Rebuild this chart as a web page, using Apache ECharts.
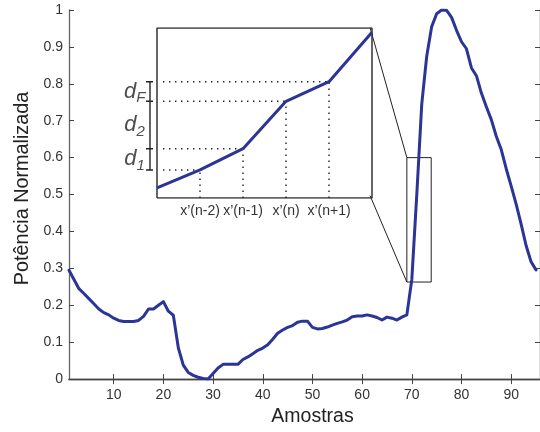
<!DOCTYPE html>
<html><head><meta charset="utf-8">
<script src="https://cdn.jsdelivr.net/npm/echarts@6/dist/echarts.min.js"></script>
<style>html,body{margin:0;padding:0;background:#fff}#c{width:540px;height:432px}</style>
</head><body><div id="c"></div>
<script>
// ---- main series ----
const samples = Array.from({length: 95}, (_, i) => i + 1);
const power = [
  0.295, 0.270, 0.245, 0.232, 0.218, 0.204, 0.190, 0.180, 0.174, 0.165,
  0.159, 0.156, 0.156, 0.156, 0.159, 0.170, 0.190, 0.190, 0.200, 0.210,
  0.184, 0.173, 0.085, 0.038, 0.018, 0.010, 0.005, 0.002, 0.000, 0.015,
  0.030, 0.040, 0.040, 0.040, 0.040, 0.053, 0.060, 0.069, 0.078, 0.084,
  0.093, 0.108, 0.124, 0.133, 0.140, 0.145, 0.154, 0.157, 0.157, 0.140,
  0.136, 0.137, 0.141, 0.146, 0.151, 0.155, 0.160, 0.169, 0.171, 0.171,
  0.174, 0.171, 0.167, 0.160, 0.168, 0.165, 0.160, 0.168, 0.174, 0.270,
  0.500, 0.745, 0.875, 0.955, 0.990, 1.000, 0.999, 0.980, 0.945, 0.914,
  0.895, 0.843, 0.822, 0.775, 0.738, 0.703, 0.658, 0.622, 0.570, 0.523,
  0.474, 0.420, 0.362, 0.318, 0.296
];
const xTicks = [10, 20, 30, 40, 50, 60, 70, 80, 90];
const xMin = 1, xMax = 95.8;

// ---- zoom rectangle (main data coords) & inset corners (main data coords) ----
const zoomBoxX = [69, 73.9];
const zoomBoxY = [0.263, 0.6];
const insetCornerX = 61.6;
const insetCornerY = [0.952, 0.497];

// ---- inset schematic ----
const insetMinX = -0.7, insetMaxX = 5;
const insetBoxX = [0, 5];
const insetBoxY = [0, 1];
const insetX = [0, 1, 2, 3, 4, 5];
const insetY = [0.06, 0.165, 0.29, 0.569, 0.684, 0.975];
const insetLabels = ['x’(n-2)', 'x’(n-1)', 'x’(n)', 'x’(n+1)'];
const insetLabelPos = [1, 2, 3, 4];
const guideStartX = 0.14;
const bracketX = -0.163, bracketTick = [-0.256, -0.093];
const dLabelX = -0.52;
const dLabels = [
  {text: '{d|d}{s|1}', y: (insetY[1] + insetY[2]) / 2},
  {text: '{d|d}{s|2}', y: (insetY[2] + insetY[3]) / 2},
  {text: '{d|d}{s|F}', y: (insetY[3] + insetY[4]) / 2}
];

const FONT = 'Liberation Sans';
const BLUE = '#2b3595';
const INK = '#222';
const chart = echarts.init(document.getElementById('c'), null, {renderer: 'canvas'});

const dotted = {color: INK, width: 1.4, type: [1.4, 4.6]};
const series = [];
function seg(axisIdx, pts, style, z) {
  series.push({type: 'line', xAxisIndex: axisIdx, yAxisIndex: axisIdx, symbol: 'none', silent: true,
    z: z || 3, lineStyle: style, data: pts});
}

// zoom rectangle
seg(0, [[zoomBoxX[0], zoomBoxY[0]], [zoomBoxX[1], zoomBoxY[0]], [zoomBoxX[1], zoomBoxY[1]],
        [zoomBoxX[0], zoomBoxY[1]], [zoomBoxX[0], zoomBoxY[0]]], {color: INK, width: 1}, 2);
// connectors from inset box corners to zoom rectangle
seg(0, [[insetCornerX, insetCornerY[0]], [zoomBoxX[0], zoomBoxY[1]]], {color: INK, width: 1}, 2);
seg(0, [[insetCornerX, insetCornerY[1]], [zoomBoxX[0], zoomBoxY[0]]], {color: INK, width: 1}, 2);
// main curve
series.push({
  type: 'line', xAxisIndex: 0, yAxisIndex: 0, symbol: 'none', z: 5,
  lineStyle: {color: BLUE, width: 3, join: 'round', cap: 'round'},
  data: samples.map((s, i) => [s, power[i]])
});

// inset box
seg(1, [[insetBoxX[0], insetBoxY[0]], [insetBoxX[1], insetBoxY[0]], [insetBoxX[1], insetBoxY[1]],
        [insetBoxX[0], insetBoxY[1]], [insetBoxX[0], insetBoxY[0]]], {color: '#333', width: 1.5}, 3);
// inset guides
for (let i = 1; i <= 4; i++) {
  seg(1, [[insetX[i], insetBoxY[0]], [insetX[i], insetY[i]]], dotted, 3);
  seg(1, [[guideStartX, insetY[i]], [insetX[i], insetY[i]]], dotted, 3);
}
// inset curve
series.push({
  type: 'line', xAxisIndex: 1, yAxisIndex: 1, symbol: 'none', z: 5,
  lineStyle: {color: BLUE, width: 3, join: 'round'},
  data: insetX.map((x, i) => [x, insetY[i]])
});
// bracket
seg(1, [[bracketX, insetY[1]], [bracketX, insetY[4]]], {color: INK, width: 1.4}, 4);
for (let i = 1; i <= 4; i++) {
  seg(1, [[bracketTick[0], insetY[i]], [bracketTick[1], insetY[i]]], {color: INK, width: 1.4}, 4);
}
// d labels
series.push({
  type: 'scatter', xAxisIndex: 1, yAxisIndex: 1, symbolSize: 0, silent: true, z: 6,
  data: dLabels.map(d => ({value: [dLabelX, d.y], label: {formatter: d.text}})),
  label: {
    show: true, position: 'inside', align: 'center', verticalAlign: 'middle',
    rich: {
      d: {fontFamily: FONT, fontStyle: 'italic', fontSize: 22, color: INK, lineHeight: 22, verticalAlign: 'top'},
      s: {fontFamily: FONT, fontStyle: 'italic', fontSize: 15, color: INK, lineHeight: 15, verticalAlign: 'top', padding: [10, 0, 0, 0]}
    }
  }
});

const option = {
  animation: false,
  backgroundColor: '#fff',
  textStyle: {fontFamily: FONT},
  grid: [
    {left: 69, top: 10, width: 474, height: 374, show: false},
    {left: 126.9, top: 28, width: 245.1, height: 170, show: false}
  ],
  xAxis: [
    {gridIndex: 0, type: 'value', min: xMin, max: xMax, position: 'bottom',
     name: 'Amostras', nameLocation: 'middle', nameGap: 34,
     nameTextStyle: {fontSize: 19.5, color: INK, verticalAlign: 'middle', padding: [0, 0, 0, 16]},
     axisLine: {show: true, lineStyle: {color: '#666', width: 1.3}},
     axisTick: {show: true, inside: true, length: 5, customValues: xTicks, lineStyle: {color: '#444'}},
     axisLabel: {show: true, customValues: xTicks, fontSize: 14, color: '#333', margin: 9},
     splitLine: {show: false}},
    {gridIndex: 1, type: 'value', min: insetMinX, max: insetMaxX, position: 'bottom',
     axisLine: {show: false}, axisTick: {show: false}, splitLine: {show: false},
     axisLabel: {show: true, customValues: insetLabelPos, fontSize: 14, color: '#333', margin: 6,
                 formatter: v => insetLabels[insetLabelPos.indexOf(Math.round(v))]}},
    {gridIndex: 0, type: 'value', min: xMin, max: xMax, position: 'top',
     axisLine: {show: true, lineStyle: {color: '#444', width: 1.3}},
     axisTick: {show: true, inside: true, length: 5, customValues: xTicks, lineStyle: {color: '#444'}},
     axisLabel: {show: false}, splitLine: {show: false}}
  ],
  yAxis: [
    {gridIndex: 0, type: 'value', min: 0, max: 1, interval: 0.1,
     name: 'Potência Normalizada', nameLocation: 'middle', nameGap: 37.5,
     nameTextStyle: {fontSize: 19.8, color: INK, verticalAlign: 'middle', padding: [0, 0, 0, 12]},
     axisLine: {show: true, lineStyle: {color: '#666', width: 1.3}},
     axisTick: {show: true, inside: true, length: 5, lineStyle: {color: '#444'}},
     axisLabel: {show: true, fontSize: 14, color: '#333', margin: 6},
     splitLine: {show: false}},
    {gridIndex: 1, type: 'value', min: 0, max: 1,
     axisLine: {show: false}, axisTick: {show: false}, axisLabel: {show: false}, splitLine: {show: false}},
    {gridIndex: 0, type: 'value', min: 0, max: 1, interval: 0.1, position: 'right',
     axisLine: {show: true, lineStyle: {color: '#444', width: 1.3}},
     axisTick: {show: true, inside: true, length: 5, lineStyle: {color: '#444'}},
     axisLabel: {show: false}, splitLine: {show: false}}
  ],
  series: series
};
chart.setOption(option);
</script>
</body></html>
